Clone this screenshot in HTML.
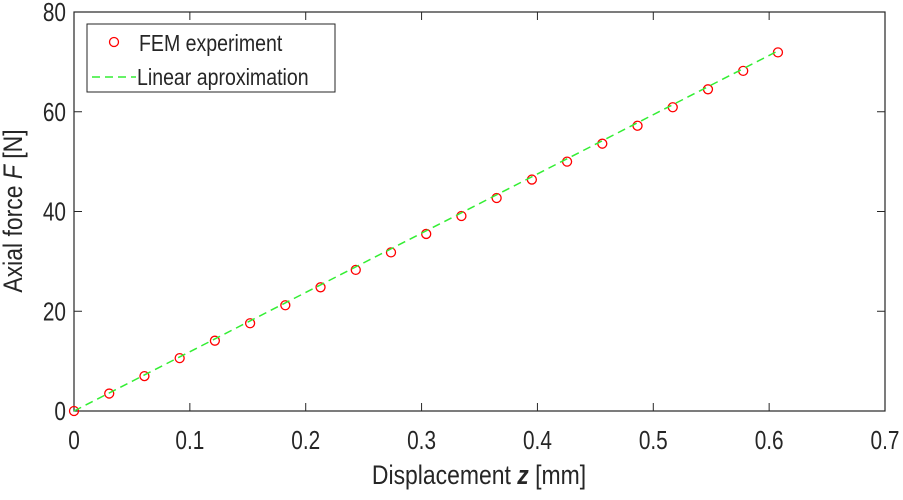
<!DOCTYPE html>
<html><head><meta charset="utf-8"><style>
body{margin:0;background:#fff}
svg text{font-family:"Liberation Sans",Arial,sans-serif;fill:#262626}
</style></head><body>
<svg id="chart" width="903" height="495" viewBox="0 0 903 495">
<g id="axes"></g><g id="marks"></g>
<g>
<rect x="87" y="24" width="248" height="68" fill="#fff" stroke="#262626" stroke-width="1"/>
<circle cx="114" cy="42" r="4.5" fill="none" stroke="#ff0000" stroke-width="1.3"/>
<text transform="translate(139,51) scale(0.85,1)" font-size="23">FEM experiment</text>
<line x1="92" y1="77" x2="136" y2="77" stroke="#33ee33" stroke-width="1.5" stroke-dasharray="8,5"/>
<text transform="translate(137,85) scale(0.85,1)" font-size="23">Linear aproximation</text>
</g>
<text transform="translate(479,484) scale(0.85,1)" font-size="27" text-anchor="middle">Displacement <tspan font-style="italic" font-weight="bold">z</tspan> [mm]</text>
<text transform="translate(22,211) rotate(-90) scale(0.85,1)" font-size="27" text-anchor="middle">Axial force <tspan font-style="italic">F</tspan> [N]</text>
</svg>
<script>
const xTicks=[0,0.1,0.2,0.3,0.4,0.5,0.6,0.7];
const yTicks=[0,20,40,60,80];
const zValues=[0,0.0304,0.0608,0.0912,0.1216,0.152,0.1824,0.2128,0.2432,0.2736,0.304,0.3344,0.3648,0.3952,0.4256,0.456,0.4864,0.5168,0.5472,0.5776,0.6076];
const fValues=[0,3.5,7,10.6,14.1,17.6,21.2,24.8,28.3,31.8,35.5,39.1,42.7,46.4,50,53.6,57.2,60.9,64.5,68.2,71.9];
const lineZ=[0,0.6076];
const lineF=[0,72.2];
const L=74,R=885,T=12,B=411;
const sx=v=>L+(v-0)/(0.7)*(R-L);
const sy=v=>B-(v/80)*(B-T);
const NS="http://www.w3.org/2000/svg";
const axes=document.getElementById('axes'),marks=document.getElementById('marks');
function mk(tag,attrs,parent){const e=document.createElementNS(NS,tag);for(const k in attrs)e.setAttribute(k,attrs[k]);parent.appendChild(e);return e;}
const frame=mk('rect',{x:L,y:T,width:R-L,height:B-T,fill:'none',stroke:'#262626','stroke-width':1.2},axes);


xTicks.forEach(t=>{
 const x=sx(t);
 const g=mk('line',{x1:x,y1:B,x2:x,y2:B-8,stroke:'#262626'},axes);
 
 
 mk('line',{x1:x,y1:T,x2:x,y2:T+8,stroke:'#262626'},axes);
 const tx=mk('text',{transform:'translate('+x+','+(B+38)+') scale(0.8,1)','font-size':26,'text-anchor':'middle'},axes);
 tx.textContent=String(t);
 
 
});
yTicks.forEach(t=>{
 const y=sy(t);
 const g=mk('line',{x1:L,y1:y,x2:L+8,y2:y,stroke:'#262626'},axes);
 
 
 mk('line',{x1:R,y1:y,x2:R-8,y2:y,stroke:'#262626'},axes);
 const tx=mk('text',{transform:'translate('+(L-8)+','+(y+9)+') scale(0.8,1)','font-size':26,'text-anchor':'end'},axes);
 tx.textContent=String(t);
 
 
});
zValues.forEach((z,i)=>{
 const c=mk('circle',{cx:sx(z),cy:sy(fValues[i]),r:4.5,fill:'none',stroke:'#ff0000','stroke-width':1.3},marks);
 
 
});
const ln=mk('line',{x1:sx(lineZ[0]),y1:sy(lineF[0]),x2:sx(lineZ[1]),y2:sy(lineF[1]),stroke:'#33ee33','stroke-width':1.5,'stroke-dasharray':'8,5'},marks);


</script>
</body></html>
